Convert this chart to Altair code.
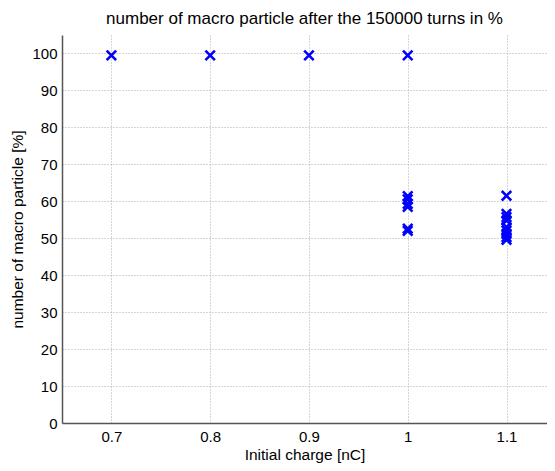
import altair as alt
import pandas as pd

charge = [0.7, 0.8, 0.9, 1.0,
          1.0, 1.0, 1.0, 1.0, 1.0, 1.0,
          1.1, 1.1, 1.1, 1.1, 1.1, 1.1, 1.1, 1.1, 1.1]
particles = [99.5, 99.5, 99.5, 99.5,
             61.4, 60.5, 59.3, 58.5, 52.6, 52.0,
             61.5, 56.6, 55.7, 54.8, 53.0, 52.1, 51.2, 50.3, 49.6]

df = pd.DataFrame({"charge": charge, "particles": particles})

FONT = "Liberation Sans"

chart = alt.Chart(df).mark_point(
    shape="M-1,-1L1,1M-1,1L1,-1",
    filled=False,
    color="#0000ff",
    strokeWidth=2.6,
    size=90,
    opacity=1,
).encode(
    x=alt.X("charge:Q",
            scale=alt.Scale(domain=[0.65, 1.141], nice=False, zero=False),
            axis=alt.Axis(values=[0.7, 0.8, 0.9, 1.0, 1.1], format="~g",
                          title="Initial charge [nC]")),
    y=alt.Y("particles:Q",
            scale=alt.Scale(domain=[0, 105], nice=False),
            axis=alt.Axis(values=list(range(0, 101, 10)),
                          title="number of macro particle [%]")),
).properties(
    width=485,
    height=388,
    title=alt.TitleParams("number of macro particle after the 150000 turns in %",
                          font=FONT, fontSize=17, fontWeight="normal",
                          color="black", anchor="middle", offset=7),
    autosize=alt.AutoSizeParams(type="none"),
    padding={"left": 54, "top": 27, "right": 0, "bottom": 40},
).configure_view(
    stroke=None
).configure_axis(
    labelFont=FONT, labelFontSize=15, labelColor="black",
    titleFont=FONT, titleFontSize=15.5, titleColor="black", titleFontWeight="normal",
    domainColor="#555555", domainWidth=1.5,
    ticks=False, labelPadding=5,
    gridColor="#aaaaaa", gridDash=[1, 2], gridWidth=1,
).configure_axisX(
    labelPadding=6, titlePadding=3,
).configure_axisY(
    titlePadding=6,
)

chart.save("out.html", embed_options={"renderer": "svg", "actions": False})
